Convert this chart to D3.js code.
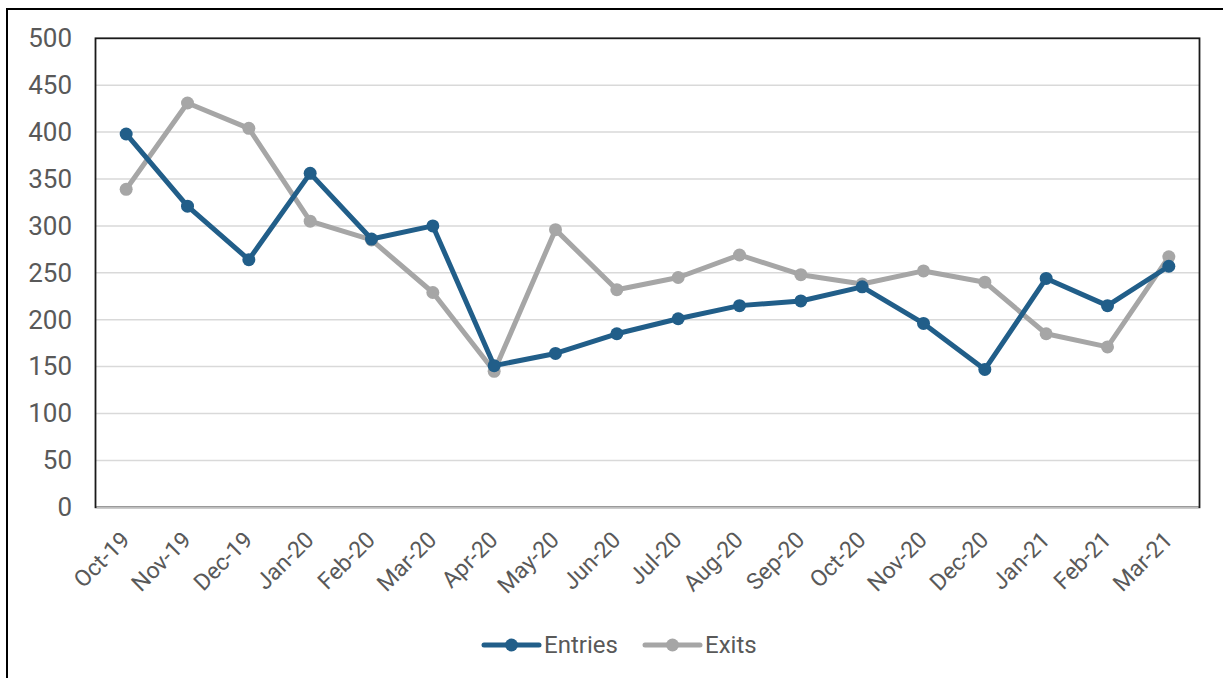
<!DOCTYPE html>
<html>
<head>
<meta charset="utf-8">
<script src="https://cdn.jsdelivr.net/npm/d3@7"></script>
<style>
  html, body { margin: 0; padding: 0; background: #fff; }
  svg { display: block; }
  text { font-family: Roboto, "Open Sans", sans-serif; fill: #595959; }
</style>
</head>
<body>
<svg id="chart" width="1223" height="678"></svg>
<script>
// Monthly counts, Oct 2019 – Mar 2021
const months = ["Oct-19","Nov-19","Dec-19","Jan-20","Feb-20","Mar-20","Apr-20","May-20","Jun-20",
                "Jul-20","Aug-20","Sep-20","Oct-20","Nov-20","Dec-20","Jan-21","Feb-21","Mar-21"];
const entries = [398, 321, 264, 356, 286, 300, 151, 164, 185, 201, 215, 220, 235, 196, 147, 244, 215, 257];
const exits   = [339, 431, 404, 305, 285, 229, 145, 296, 232, 245, 269, 248, 238, 252, 240, 185, 171, 267];
const yTicks  = [0, 50, 100, 150, 200, 250, 300, 350, 400, 450, 500];

const seriesList = [
  { name: "Entries", values: entries, color: "#215e89" },
  { name: "Exits",   values: exits,   color: "#a6a6a6" }
];

const svg = d3.select("#chart");

// Outer frame
svg.append("rect")
  .attr("x", 7).attr("y", 9)
  .attr("width", 1240).attr("height", 700)
  .attr("fill", "none").attr("stroke", "#000").attr("stroke-width", 2);

const plot = { left: 95.5, top: 38.3, right: 1199.5, bottom: 507.3 };

const x = d3.scaleBand().domain(months).range([plot.left, plot.right]);
const y = d3.scaleLinear().domain([0, 500]).range([plot.bottom, plot.top]);
const cx = m => x(m) + x.bandwidth() / 2;

// Horizontal gridlines
svg.append("g")
  .selectAll("line")
  .data(yTicks.filter(t => t > 0 && t < 500))
  .join("line")
  .attr("x1", plot.left).attr("x2", plot.right)
  .attr("y1", d => y(d)).attr("y2", d => y(d))
  .attr("stroke", "#d9d9d9").attr("stroke-width", 1.5);

// Plot-area border
svg.append("rect")
  .attr("x", plot.left).attr("y", plot.top)
  .attr("width", plot.right - plot.left).attr("height", plot.bottom - plot.top)
  .attr("fill", "none").attr("stroke", "#1a1a1a").attr("stroke-width", 1.8);

// Category axis line
svg.append("line")
  .attr("x1", plot.left + 1).attr("x2", plot.right - 1)
  .attr("y1", plot.bottom).attr("y2", plot.bottom)
  .attr("stroke", "#bfbfbf").attr("stroke-width", 1.8);

// Value axis labels
const yAxis = d3.axisLeft(y).tickValues(yTicks).tickSize(0).tickPadding(0);
const gy = svg.append("g")
  .attr("transform", `translate(72,0)`)
  .call(yAxis);
gy.select(".domain").remove();
gy.selectAll("text")
  .attr("font-size", 26)
  .attr("fill", "#595959")
  .style("font-family", "Roboto, 'Open Sans', sans-serif");

// Category labels, rotated
const xAxis = d3.axisBottom(x).tickSize(0).tickPadding(0);
const gx = svg.append("g")
  .attr("transform", `translate(0,${plot.bottom})`)
  .call(xAxis);
gx.select(".domain").remove();
gx.selectAll("text")
  .attr("font-size", 23)
  .attr("fill", "#595959")
  .style("font-family", "Roboto, 'Open Sans', sans-serif")
  .attr("text-anchor", "end")
  .attr("dy", null)
  .attr("y", 0)
  .attr("transform", "translate(5,34) rotate(-45)");

// Lines and markers
const line = d3.line()
  .x((d, i) => cx(months[i]))
  .y(d => y(d));

seriesList.slice().reverse().forEach(s => {
  const g = svg.append("g");
  g.append("path")
    .datum(s.values)
    .attr("d", line)
    .attr("fill", "none")
    .attr("stroke", s.color)
    .attr("stroke-width", 5)
    .attr("stroke-linejoin", "round");
  g.selectAll("circle")
    .data(s.values)
    .join("circle")
    .attr("cx", (d, i) => cx(months[i]))
    .attr("cy", d => y(d))
    .attr("r", 6.5)
    .attr("fill", s.color);
});

// Legend
const legendItems = [
  { s: seriesList[0], x0: 484, x1: 539, tx: 544 },
  { s: seriesList[1], x0: 645, x1: 700, tx: 705 }
];
const ly = 645;
legendItems.forEach(li => {
  const g = svg.append("g");
  g.append("line")
    .attr("x1", li.x0).attr("x2", li.x1)
    .attr("y1", ly).attr("y2", ly)
    .attr("stroke", li.s.color).attr("stroke-width", 5)
    .attr("stroke-linecap", "round");
  g.append("circle")
    .attr("cx", (li.x0 + li.x1) / 2).attr("cy", ly).attr("r", 6.5)
    .attr("fill", li.s.color);
  g.append("text")
    .attr("x", li.tx).attr("y", ly)
    .attr("dy", "0.35em")
    .attr("font-size", 24)
    .text(li.s.name);
});
</script>
</body>
</html>
